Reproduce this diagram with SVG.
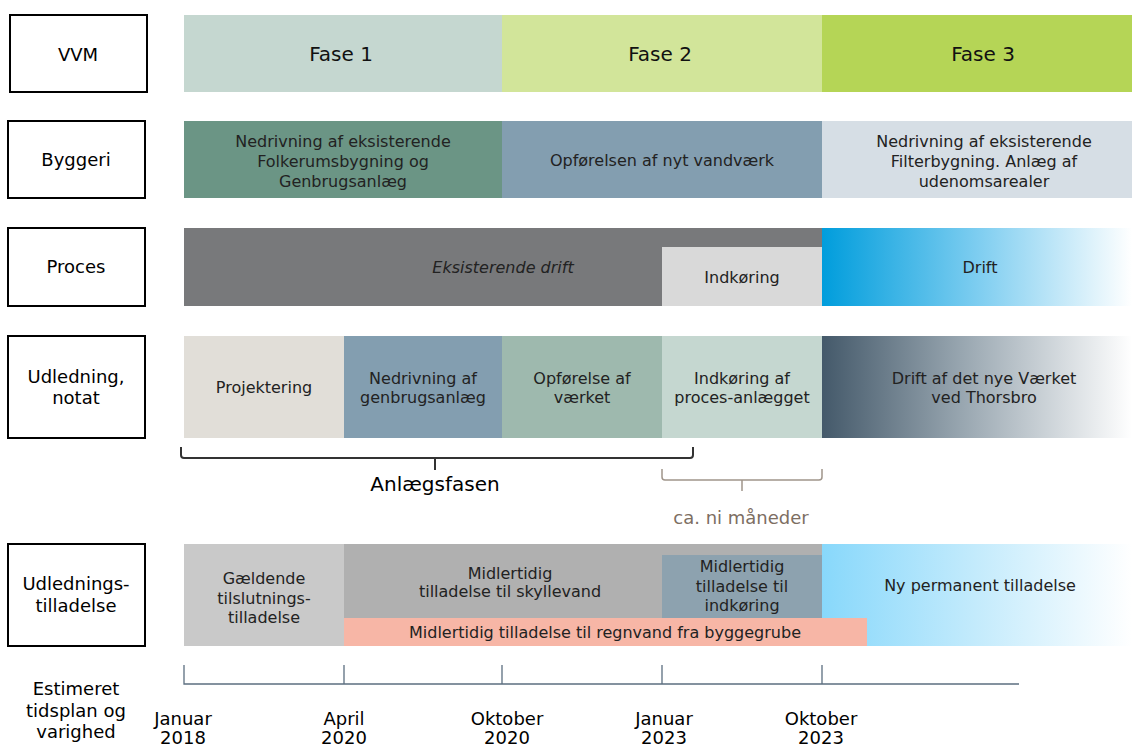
<svg xmlns="http://www.w3.org/2000/svg" width="1132" height="747" viewBox="0 0 1132 747">
<defs>
<linearGradient id="gBlue" x1="0" y1="0" x2="1" y2="0">
<stop offset="0" stop-color="#009ddc"/>
<stop offset="0.5" stop-color="#7dcdf0"/>
<stop offset="1" stop-color="#ffffff"/>
</linearGradient>
<linearGradient id="gDark" x1="0" y1="0" x2="1" y2="0">
<stop offset="0" stop-color="#44596a"/>
<stop offset="0.45" stop-color="#98a6b0"/>
<stop offset="1" stop-color="#ffffff"/>
</linearGradient>
<linearGradient id="gLight" x1="0" y1="0" x2="1" y2="0">
<stop offset="0" stop-color="#88d8fb"/>
<stop offset="0.5" stop-color="#c4ebfc"/>
<stop offset="1" stop-color="#ffffff"/>
</linearGradient>
<style>
text{font-family:"DejaVu Sans","Verdana",sans-serif;text-anchor:middle;}
.lab{fill:#fff;stroke:#000;stroke-width:2;}
.lt{font-size:18px;fill:#000;}
.bt{font-size:16px;fill:#222;}
.ft{font-size:20px;fill:#111;}
.tick{stroke:#5c6f80;stroke-width:1.3;fill:none;}
</style>
</defs>
<rect width="1132" height="747" fill="#fff"/>

<g id="label-vvm"><rect class="lab" x="10" y="15" width="137" height="77"/><text class="lt" x="78" y="61">VVM</text></g>
<g id="label-byggeri"><rect class="lab" x="8" y="121" width="137" height="77"/><text class="lt" x="76" y="166">Byggeri</text></g>
<g id="label-proces"><rect class="lab" x="8" y="228" width="137" height="78"/><text class="lt" x="76" y="273">Proces</text></g>
<g id="label-udledning"><rect class="lab" x="8" y="336" width="137" height="102"/><text class="lt" x="76" y="383">Udledning,</text><text class="lt" x="76" y="404">notat</text></g>
<g id="label-tilladelse"><rect class="lab" x="8" y="544" width="137" height="102"/><text class="lt" x="76" y="590">Udlednings-</text><text class="lt" x="76" y="612">tilladelse</text></g>

<g id="vvm-fase1"><rect x="184" y="15" width="318" height="77" fill="#c5d7d0"/><text class="ft" x="341" y="61">Fase 1</text></g>
<g id="vvm-fase2"><rect x="502" y="15" width="320" height="77" fill="#d2e59a"/><text class="ft" x="660" y="61">Fase 2</text></g>
<g id="vvm-fase3"><rect x="822" y="15" width="310" height="77" fill="#b5d556"/><text class="ft" x="983" y="61">Fase 3</text></g>

<g id="byg-1"><rect x="184" y="121" width="318" height="77" fill="#6b9585"/><text class="bt" x="343" y="147">Nedrivning af eksisterende</text><text class="bt" x="343" y="167">Folkerumsbygning og</text><text class="bt" x="343" y="187">Genbrugsanlæg</text></g>
<g id="byg-2"><rect x="502" y="121" width="320" height="77" fill="#839eb0"/><text class="bt" x="662" y="166">Opførelsen af nyt vandværk</text></g>
<g id="byg-3"><rect x="822" y="121" width="310" height="77" fill="#d6dee5"/><text class="bt" x="984" y="147">Nedrivning af eksisterende</text><text class="bt" x="984" y="167">Filterbygning. Anlæg af</text><text class="bt" x="984" y="187">udenomsarealer</text></g>

<g id="proc-drift-eks"><rect x="184" y="228" width="638" height="78" fill="#78797b"/><text class="bt" x="503" y="273" font-style="italic">Eksisterende drift</text></g>
<g id="proc-indkoring"><rect x="662" y="247" width="160" height="59" fill="#d9d9d9"/><text class="bt" x="742" y="283">Indkøring</text></g>
<g id="proc-drift"><rect x="822" y="228" width="310" height="78" fill="url(#gBlue)"/><text class="bt" x="980" y="273">Drift</text></g>

<g id="udl-proj"><rect x="184" y="336" width="160" height="102" fill="#e1ded8"/><text class="bt" x="264" y="393">Projektering</text></g>
<g id="udl-nedriv"><rect x="344" y="336" width="158" height="102" fill="#839eb0"/><text class="bt" x="423" y="384">Nedrivning af</text><text class="bt" x="423" y="403">genbrugsanlæg</text></g>
<g id="udl-opf"><rect x="502" y="336" width="160" height="102" fill="#9eb9ae"/><text class="bt" x="582" y="384">Opførelse af</text><text class="bt" x="582" y="403">værket</text></g>
<g id="udl-indk"><rect x="662" y="336" width="160" height="102" fill="#c5d7d0"/><text class="bt" x="742" y="384">Indkøring af</text><text class="bt" x="742" y="403">proces-anlægget</text></g>
<g id="udl-drift"><rect x="822" y="336" width="310" height="102" fill="url(#gDark)"/><text class="bt" x="984" y="384">Drift af det nye Værket</text><text class="bt" x="984" y="403">ved Thorsbro</text></g>

<g id="brace-anlaeg"><path d="M181,447 V455 Q181,458 184,458 H690 Q693,458 693,455 V447 M435,458 V470" fill="none" stroke="#333" stroke-width="2"/><text x="435" y="491" font-size="20px" fill="#000">Anlægsfasen</text></g>
<g id="brace-ni"><path d="M662,469 V477 Q662,480 665,480 H819 Q822,480 822,477 V469 M742,480 V491" fill="none" stroke="#a0958b" stroke-width="1.5"/><text x="741" y="524" font-size="18px" fill="#7d6e62">ca. ni måneder</text></g>

<g id="till-gaeld"><rect x="184" y="544" width="160" height="102" fill="#c9c9c9"/><text class="bt" x="264" y="584">Gældende</text><text class="bt" x="264" y="604">tilslutnings-</text><text class="bt" x="264" y="623">tilladelse</text></g>
<g id="till-skyl"><rect x="344" y="544" width="478" height="74" fill="#b0b0b0"/><text class="bt" x="510" y="579">Midlertidig</text><text class="bt" x="510" y="597">tilladelse til skyllevand</text></g>
<g id="till-indk"><rect x="662" y="555" width="160" height="63" fill="#8da2af"/><text class="bt" x="742" y="572">Midlertidig</text><text class="bt" x="742" y="592">tilladelse til</text><text class="bt" x="742" y="611">indkøring</text></g>
<g id="till-ny"><rect x="822" y="544" width="310" height="102" fill="url(#gLight)"/><text class="bt" x="980" y="591">Ny permanent tilladelse</text></g>
<g id="till-regn"><rect x="344" y="618" width="523" height="28" fill="#f7b6a6"/><text class="bt" x="605" y="638">Midlertidig tilladelse til regnvand fra byggegrube</text></g>

<g id="timeline">
<path class="tick" d="M184,665 V684 H1019 M344,665 V684 M502,665 V684 M662,665 V684 M822,665 V684"/>
<text class="lt" x="76" y="695">Estimeret</text><text class="lt" x="76" y="717">tidsplan og</text><text class="lt" x="76" y="738">varighed</text>
<text class="lt" x="183" y="725">Januar</text><text class="lt" x="183" y="744">2018</text>
<text class="lt" x="344" y="725">April</text><text class="lt" x="344" y="744">2020</text>
<text class="lt" x="507" y="725">Oktober</text><text class="lt" x="507" y="744">2020</text>
<text class="lt" x="664" y="725">Januar</text><text class="lt" x="664" y="744">2023</text>
<text class="lt" x="821" y="725">Oktober</text><text class="lt" x="821" y="744">2023</text>
</g>
</svg>
